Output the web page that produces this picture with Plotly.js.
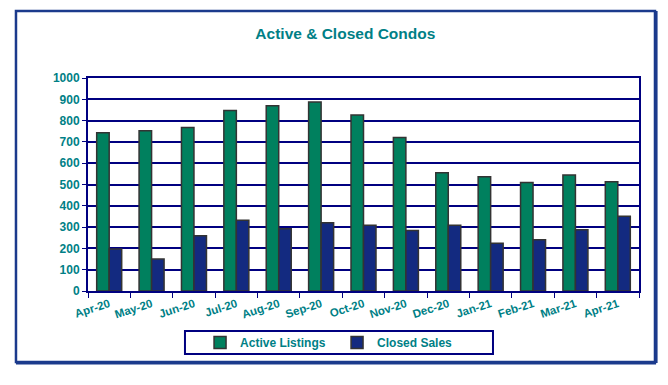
<!DOCTYPE html>
<html>
<head>
<meta charset="utf-8">
<script src="https://cdn.plot.ly/plotly-3.0.1.min.js"></script>
<style>html,body{margin:0;padding:0;background:#fff;}#chart{width:668px;height:385px;}</style>
</head>
<body>
<div id="chart"></div>
<script>
var months = ["Apr-20","May-20","Jun-20","Jul-20","Aug-20","Sep-20","Oct-20","Nov-20","Dec-20","Jan-21","Feb-21","Mar-21","Apr-21"];
var activeListings = [743, 752, 768, 848, 870, 887, 826, 721, 555, 536, 509, 545, 513];
var closedSales = [197, 150, 259, 332, 292, 320, 309, 284, 309, 224, 241, 288, 351];

var teal = "#007f86";
var navy = "#000080";
var frame = "#1b3a8c";
var fam = "Liberation Sans, Arial, sans-serif";

var traces = [
  {type: "bar", name: "Active Listings", x: months, y: activeListings,
   marker: {color: "#00805e", line: {color: "#333333", width: 1.5}}},
  {type: "bar", name: "Closed Sales", x: months, y: closedSales,
   marker: {color: "#132a80", line: {color: "#333333", width: 1.5}}}
];

var layout = {
  width: 668, height: 385,
  margin: {l: 88, r: 29, t: 78, b: 94},
  paper_bgcolor: "#ffffff", plot_bgcolor: "#ffffff",
  barmode: "group", bargap: 0.41, bargroupgap: 0,
  showlegend: true,
  title: {text: "Active &amp; Closed Condos", x: 0.517, xanchor: "center", y: 0.914, yanchor: "middle",
          font: {family: fam, size: 15.5, color: teal, weight: "bold"}},
  xaxis: {type: "category", tickangle: -18, tickfont: {family: fam, size: 11.5, color: teal, weight: "bold"},
          showline: true, mirror: true,
          linecolor: navy, linewidth: 2, ticks: "outside", ticklen: 5, tickcolor: navy,
          tickson: "boundaries", showgrid: false, fixedrange: true},
  yaxis: {range: [0, 1000], dtick: 100, tickfont: {family: fam, size: 12, color: teal, weight: "bold"},
          showline: true, mirror: true,
          linecolor: navy, linewidth: 2, ticks: "outside", ticklen: 4, tickcolor: navy,
          showgrid: true, gridcolor: navy, gridwidth: 2, zeroline: false, fixedrange: true},
  legend: {orientation: "h", x: 0.452, xanchor: "center", y: -0.242, yanchor: "middle",
           bgcolor: "rgba(0,0,0,0)", borderwidth: 0, entrywidth: 92, itemwidth: 30,
           font: {family: fam, size: 12, color: teal, weight: "bold"}},
  shapes: [
    {type: "rect", xref: "paper", yref: "paper", x0: -0.1307, x1: 1.029, y0: -0.3333, y1: 1.3146,
     line: {color: frame, width: 2.5}, fillcolor: "rgba(0,0,0,0)", layer: "below"},
    {type: "line", xref: "paper", yref: "paper", x0: -0.1307, x1: 1.031, y0: -0.3375, y1: -0.3375,
     line: {color: frame, width: 3}},
    {type: "line", xref: "paper", yref: "paper", x0: 1.031, x1: 1.031, y0: 1.3146, y1: -0.3375,
     line: {color: frame, width: 3}},
    {type: "rect", xref: "paper", yref: "paper", x0: 0.176, x1: 0.735, y0: -0.296, y1: -0.188,
     line: {color: navy, width: 2}, fillcolor: "rgba(0,0,0,0)"}
  ]
};

Plotly.newPlot("chart", traces, layout, {displayModeBar: false, staticPlot: true});
</script>
</body>
</html>
